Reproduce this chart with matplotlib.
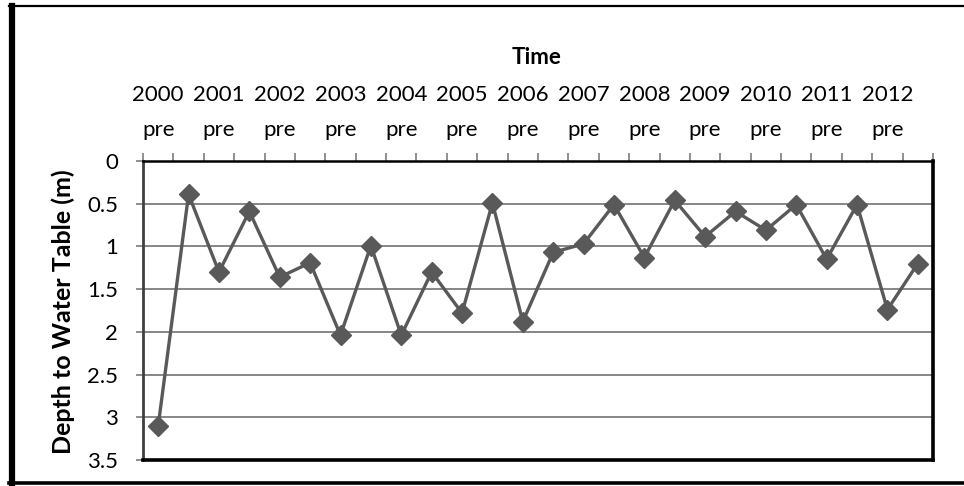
import matplotlib
matplotlib.use("Agg")
import matplotlib.pyplot as plt
from matplotlib.lines import Line2D

years = [str(y) for y in range(2000, 2013)]
seasons = ["pre", "post"]
categories = [f"{y} {s}" for y in years for s in seasons]
depth = [3.10, 0.39, 1.30, 0.59, 1.36, 1.19, 2.04, 0.99, 2.04, 1.30,
         1.78, 0.49, 1.88, 1.07, 0.97, 0.51, 1.13, 0.46, 0.885, 0.59,
         0.81, 0.51, 1.15, 0.51, 1.74, 1.20]
y_ticks = [0, 0.5, 1, 1.5, 2, 2.5, 3, 3.5]
y_tick_labels = ["0", "0.5", "1", "1.5", "2", "2.5", "3", "3.5"]
title = "Time"
ylabel = "Depth to Water Table (m)"

plt.rcParams['font.family'] = ['Lato', 'DejaVu Sans']

W, H = 964, 486
fig = plt.figure(figsize=(W / 100, H / 100), dpi=100)
ax = fig.add_axes([143 / W, (H - 460) / H, 790 / W, 299 / H])

x = list(range(len(categories)))
ax.plot(x, depth, color="#595959", lw=2.4, marker="D", markersize=10.2,
        markerfacecolor="#595959", markeredgecolor="#595959", zorder=3)

ax.set_xlim(-0.5, len(categories) - 0.5)
ax.set_ylim(3.5, 0)
ax.set_yticks(y_ticks)
ax.set_yticklabels(y_tick_labels, fontsize=16)
ax.yaxis.grid(True, color="#868686", lw=1.4)
ax.set_axisbelow(True)

ax.xaxis.tick_top()
ax.set_xticks([i - 0.5 for i in range(len(categories) + 1)])
ax.set_xticklabels([])
label_pos = [i for i in x if i % 2 == 0]
label_txt = [categories[i].replace(" ", "\n") for i in label_pos]
ax.set_xticks(label_pos, minor=True)
ax.set_xticklabels(label_txt, minor=True, fontsize=16, linespacing=1.95)
ax.tick_params(axis="x", which="major", length=5.8, width=1.3, color="#868686", top=True, bottom=False)
ax.tick_params(axis="x", which="minor", length=0, pad=15, top=True, bottom=False, labeltop=True, labelbottom=False)
ax.tick_params(axis="y", length=5, width=1.3, color="#868686", pad=13)

ax.spines["top"].set_linewidth(1.8)
ax.spines["top"].set_color("black")
for s in ["right", "bottom"]:
    ax.spines[s].set_linewidth(2.6)
    ax.spines[s].set_color("black")
ax.spines["left"].set_linewidth(2.0)
ax.spines["left"].set_color("#404040")

fig.text(537 / W, 1 - 57 / H, title, ha="center", va="center", fontsize=16, fontweight="bold")
fig.text(63 / W, 1 - 312 / H, ylabel, ha="center", va="center", rotation=90,
         fontsize=18, fontweight="bold")

# outer chart border
fig.add_artist(Line2D([9 / W, 1.0], [1 - 6 / H, 1 - 6 / H], color="black", lw=1.6, transform=fig.transFigure))
fig.add_artist(Line2D([11.5 / W, 11.5 / W], [1 - 6 / H, 1 - 483 / H], color="black", lw=4.5, transform=fig.transFigure))
fig.add_artist(Line2D([9 / W, 1.0], [1 - 482.5 / H, 1 - 482.5 / H], color="black", lw=2.6, transform=fig.transFigure))

fig.savefig("out.png", dpi=100)
